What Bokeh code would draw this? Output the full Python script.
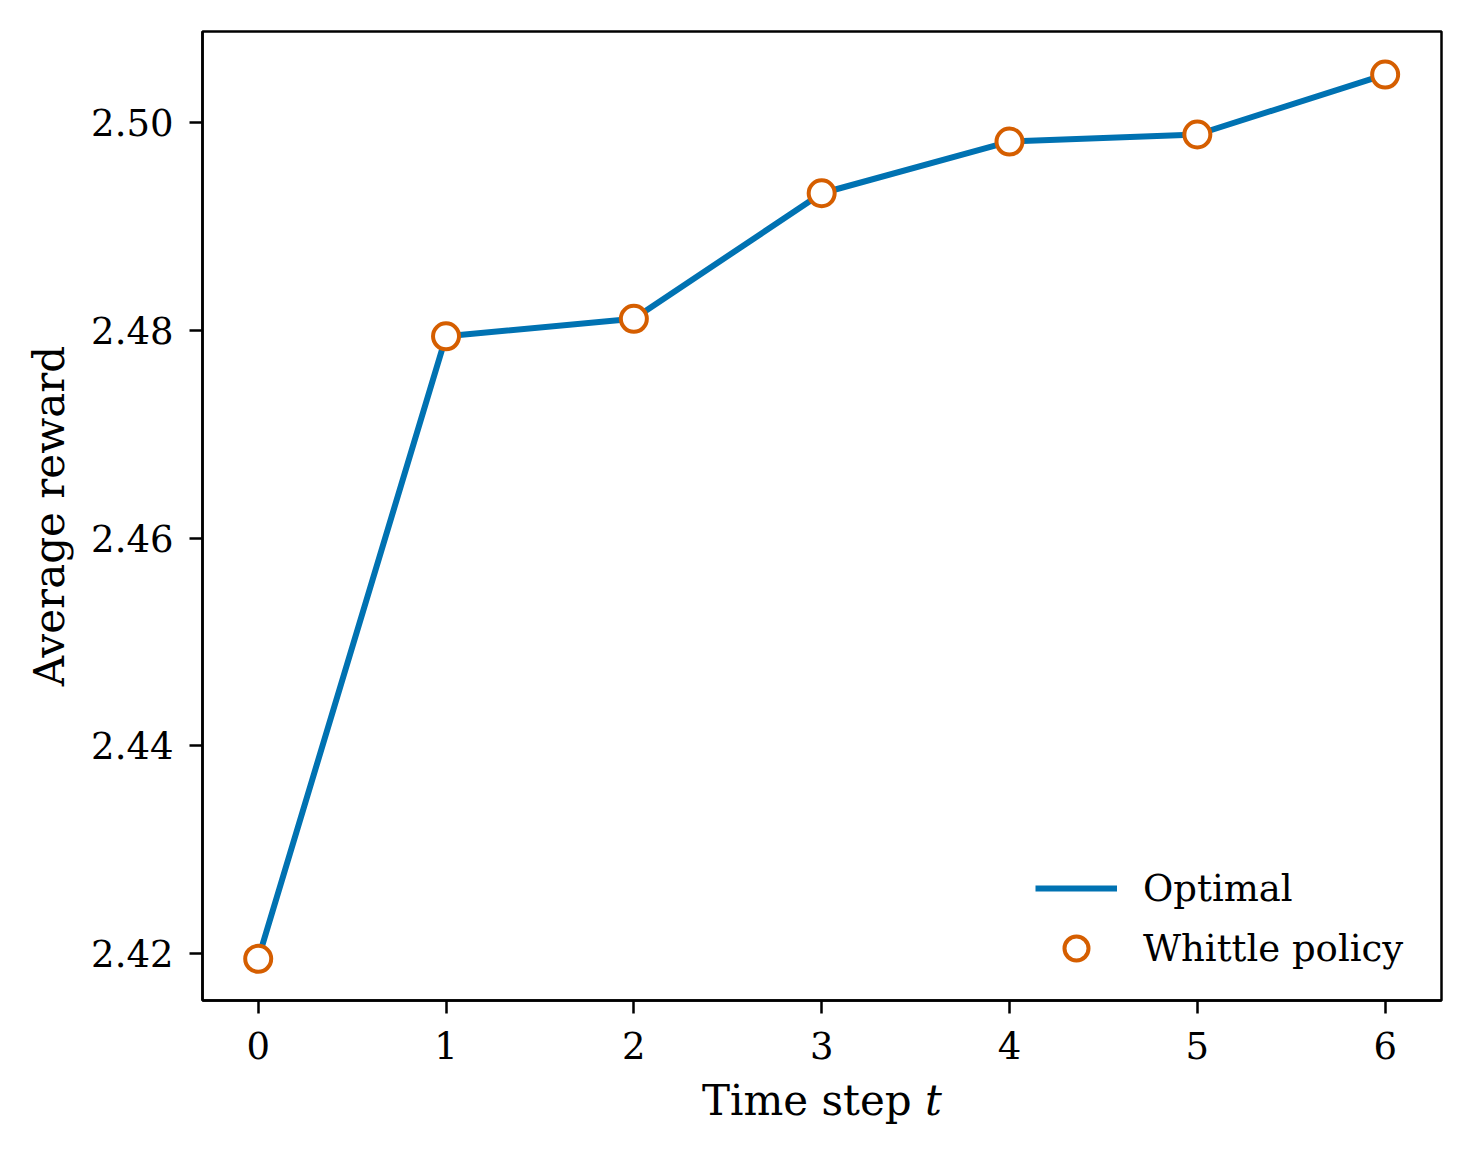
from bokeh.plotting import figure
from bokeh.models import Range1d, Legend, LegendItem, FixedTicker, CustomJSTickFormatter
from bokeh.embed import file_html
from bokeh.resources import INLINE

# data
time_steps = [0, 1, 2, 3, 4, 5, 6]
optimal = [2.41952, 2.47941, 2.48109, 2.49317, 2.49814, 2.49882, 2.50459]
whittle = [2.41952, 2.47941, 2.48109, 2.49317, 2.49814, 2.49882, 2.50459]
x_ticks = [0, 1, 2, 3, 4, 5, 6]
y_ticks = [2.42, 2.44, 2.46, 2.48, 2.50]

FONT = "DejaVu Serif"
BLUE = "#0072B2"
ORANGE = "#D55E00"

p = figure(
    width=1462, height=1150,
    frame_width=1239, frame_height=969,
    min_border_left=202, min_border_top=31, min_border_right=21, min_border_bottom=150,
    x_range=Range1d(-0.2966, 6.30), y_range=Range1d(2.41551, 2.50873),
    output_backend="svg", toolbar_location=None,
)
p.grid.visible = False
p.outline_line_color = "black"
p.outline_line_width = 2.5
p.background_fill_color = "white"
p.border_fill_color = "white"

for ax in (p.xaxis[0], p.yaxis[0]):
    ax.axis_line_width = 2.5
    ax.major_tick_line_width = 2.5
    ax.major_tick_out = 13
    ax.major_tick_in = 0
    ax.minor_tick_out = 0
    ax.minor_tick_in = 0
    ax.major_label_text_font = FONT
    ax.major_label_text_font_size = "37px"
    ax.major_label_text_color = "black"
    ax.axis_label_text_font = FONT
    ax.axis_label_text_font_size = "42px"
    ax.axis_label_text_font_style = "normal"
    ax.axis_label_text_color = "black"

p.xaxis.major_label_standoff = 18
p.yaxis.major_label_standoff = 16
p.xaxis.ticker = FixedTicker(ticks=x_ticks)
p.yaxis.ticker = FixedTicker(ticks=y_ticks)
p.yaxis.formatter = CustomJSTickFormatter(code="return tick.toFixed(2);")
p.yaxis.axis_label = "Average reward"
p.yaxis.axis_label_standoff = 14
p.xaxis.axis_label = "Time step \U0001D461"
p.xaxis.axis_label_standoff = 14

r_line = p.line(time_steps, optimal, line_color=BLUE, line_width=6)
r_pts = p.scatter(time_steps, whittle, marker="circle", size=26, fill_color="white",
                  line_color=ORANGE, line_width=4)

legend = Legend(
    items=[LegendItem(label="Optimal", renderers=[r_line]),
           LegendItem(label="Whittle policy", renderers=[r_pts])],
    location=(833, 22),
    orientation="vertical",
    border_line_alpha=0,
    background_fill_alpha=0,
    label_text_font=FONT,
    label_text_font_size="37px",
    label_text_color="black",
    label_standoff=26,
    glyph_width=82,
    glyph_height=60,
    label_height=55,
    spacing=0,
    padding=0,
    margin=0,
)
p.add_layout(legend)

open("out.html", "w").write(file_html(p, INLINE))
